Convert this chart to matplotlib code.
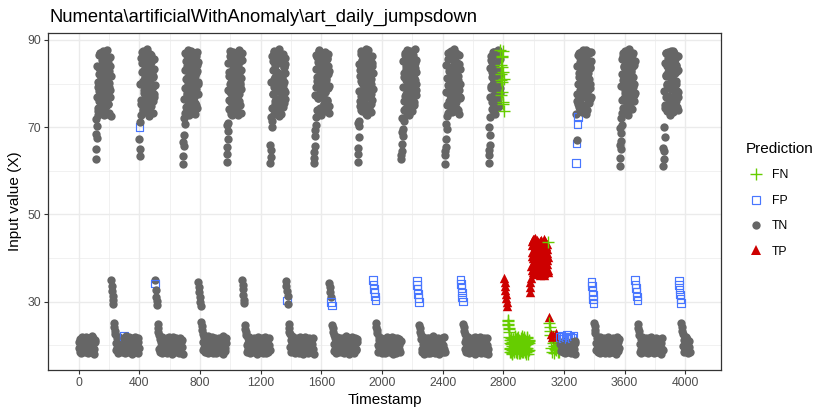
import matplotlib

matplotlib.use("Agg")
import matplotlib.pyplot as plt
import numpy as np
from matplotlib.lines import Line2D

plt.rcParams["font.family"] = ["Liberation Sans", "DejaVu Sans"]

STEP = 3  # every third 5-minute timestamp is kept
DAY = 288  # timestamps per day

# one list per day: low, high (ramp first), drop spike, bump, low
day_00 = [
    19.4, 20.8, 18.6, 21.5, 19.9, 18.2, 20.3, 21.9, 19.1, 20.6, 18.9, 21.2, 19.6, 18.4, 20.1, 22.0, 19.3, 20.9, 18.7, 21.4, 19.8, 18.3, 20.5, 21.7, 19.0, 20.2, 18.5, 21.1, 19.7, 22.1, 18.8, 20.4, 21.6, 19.2, 18.1, 20.7, 21.3,
    62.6, 65.1, 67.6, 70.2, 72.8, 74.5, 79.3, 83.6, 76.1, 86.9, 73.4, 81.2, 77.8, 85.4, 75.6, 80.7, 87.4, 78.9, 82.5, 74.0, 84.8, 76.9, 79.9, 86.2, 73.1, 81.9, 77.2, 83.1, 75.2, 85.9, 80.2, 78.4, 84.1, 72.5,
    34.9, 33.7, 32.4, 31.3, 30.4, 29.5,
    25.1, 24.2, 23.4, 22.7,
    20.6, 18.9, 21.8, 19.5, 20.2, 18.3, 21.1, 19.8, 22.0, 18.7, 20.9, 19.2, 21.5, 18.5, 20.4,
]
day_01 = [
    21.0, 18.7, 20.4, 22.2, 21.7, 18.2, 20.0, 22.1, 19.6, 18.9, 20.8, 21.4, 19.1, 18.4, 20.3, 21.9, 19.8, 18.6, 20.6, 21.2, 19.4, 18.1, 20.9, 21.6, 19.0, 18.8, 20.2, 22.0, 19.7, 18.5, 21.3, 20.1, 19.2, 18.3, 20.7, 21.8, 19.5,
    70.1, 63.4, 65.0, 72.9, 76.3, 84.7, 80.1, 87.5, 74.2, 82.8, 78.6, 86.1, 73.5, 81.4, 77.0, 85.2, 79.5, 75.1, 83.9, 87.0, 76.8, 80.9, 73.9, 84.3, 78.1, 86.6, 74.8, 82.1, 79.0, 85.7, 75.9, 81.7, 77.5, 83.3,
    35.1, 34.2, 32.8, 31.2, 30.1, 29.2,
    24.9, 24.0, 23.1, 22.5,
    19.3, 21.4, 18.6, 20.7, 19.9, 22.0, 18.2, 20.3, 21.6, 19.0, 18.8, 20.9, 21.2, 19.6, 18.4,
]
day_02 = [
    20.5, 18.3, 21.6, 19.2, 20.0, 18.8, 21.9, 19.7, 18.5, 20.6, 21.3, 19.4, 18.1, 20.2, 22.0, 19.0, 18.7, 21.1, 20.4, 19.8, 18.4, 21.7, 20.1, 19.3, 18.9, 20.8, 21.5, 19.5, 18.2, 20.3, 21.8, 19.1, 18.6, 20.9, 21.2, 19.6, 18.0,
    61.6, 63.5, 65.7, 68.2, 70.8, 73.3, 81.1, 86.8, 77.4, 84.0, 75.0, 79.8, 87.6, 72.7, 82.4, 78.3, 85.5, 74.6, 80.5, 76.2, 83.7, 87.1, 73.8, 79.2, 84.9, 77.9, 81.8, 75.5, 86.3, 78.8, 82.9, 74.3, 80.0, 85.0,
    34.6, 33.5, 32.2, 31.0, 29.9, 29.1,
    25.3, 24.4, 23.5, 22.6,
    18.9, 20.7, 21.9, 19.4, 18.4, 20.2, 21.3, 19.7, 18.6, 20.8, 22.1, 19.1, 18.2, 20.5, 21.0,
]
day_03 = [
    19.7, 21.2, 18.5, 20.3, 22.0, 19.0, 18.3, 20.9, 21.5, 19.4, 18.7, 20.1, 21.8, 19.9, 18.2, 20.6, 21.1, 19.2, 18.9, 20.4, 21.7, 19.6, 18.4, 20.0, 21.4, 19.3, 18.6, 20.7, 22.1, 19.8, 18.1, 20.2, 21.0, 19.5, 18.8, 20.5, 21.6,
    62.0, 63.9, 67.4, 69.1, 71.0, 74.1, 82.6, 78.0, 86.4, 75.8, 80.3, 84.5, 72.9, 87.3, 79.1, 83.4, 76.6, 81.5, 85.8, 73.7, 78.7, 86.0, 77.1, 82.0, 74.9, 84.2, 80.6, 87.7, 76.0, 79.6, 83.0, 73.2, 81.3, 85.3,
    35.0, 33.9, 32.9, 31.6, 30.5, 29.7,
    24.7, 23.8, 23.0, 22.4,
    20.1, 18.5, 21.7, 19.3, 20.6, 18.8, 22.0, 19.9, 18.3, 21.2, 20.4, 19.0, 18.6, 21.5, 20.0,
]
day_04 = [
    18.9, 20.6, 21.8, 19.2, 18.4, 20.3, 21.4, 19.7, 18.1, 20.9, 22.0, 19.5, 18.7, 20.0, 21.1, 19.0, 18.5, 20.7, 21.6, 19.8, 18.3, 20.2, 21.3, 19.4, 18.8, 20.5, 21.9, 19.1, 18.2, 20.8, 21.0, 19.6, 18.6, 20.1, 21.7, 19.3, 18.9,
    61.7, 63.1, 64.8, 70.0, 71.4, 77.6, 85.1, 73.0, 81.0, 87.2, 75.4, 83.2, 79.4, 86.5, 74.4, 80.8, 76.5, 84.6, 78.2, 87.8, 72.6, 82.2, 79.7, 85.6, 75.7, 81.6, 77.3, 86.7, 74.7, 83.8, 78.5, 80.4, 84.4, 76.4,
    34.7, 33.6, 30.3, 32.5, 31.4, 29.6,
    25.0, 24.1, 23.2, 22.6,
    19.6, 21.3, 18.4, 20.5, 22.1, 19.0, 18.7, 20.8, 21.5, 19.3, 18.2, 20.2, 21.8, 19.8, 18.5,
]
day_05 = [
    20.2, 18.6, 21.5, 19.9, 18.3, 20.7, 21.9, 19.3, 18.9, 20.4, 21.2, 19.6, 18.1, 20.0, 21.7, 19.1, 18.7, 20.8, 22.0, 19.4, 18.4, 20.5, 21.3, 19.8, 18.2, 20.1, 21.6, 19.0, 18.8, 20.6, 21.1, 19.5, 18.5, 20.3, 21.8, 19.2, 18.0,
    61.9, 63.0, 65.8, 67.9, 70.6, 72.4, 80.6, 86.0, 76.7, 83.5, 78.9, 87.4, 74.2, 81.9, 85.2, 77.0, 79.5, 84.7, 73.6, 82.3, 87.0, 75.3, 80.1, 86.4, 78.0, 83.9, 74.9, 81.2, 85.8, 76.1, 79.0, 84.1, 73.3, 82.8,
    34.4, 33.3, 32.3, 31.2, 30.0, 29.2,
    24.6, 23.9, 23.1, 22.3,
    18.7, 20.4, 21.6, 19.2, 18.3, 20.9, 22.0, 19.7, 18.9, 20.1, 21.3, 19.4, 18.5, 20.6, 21.8,
]
day_06 = [
    21.1, 19.4, 18.6, 20.5, 21.8, 19.0, 18.3, 20.2, 21.4, 19.7, 18.8, 20.9, 22.1, 19.2, 18.5, 20.0, 21.6, 19.5, 18.1, 20.7, 21.2, 19.9, 18.4, 20.3, 21.9, 19.1, 18.7, 20.6, 21.0, 19.6, 18.2, 20.4, 21.7, 19.3, 18.9, 20.8, 21.5,
    62.1, 63.8, 67.7, 70.3, 71.5, 75.9, 83.0, 87.5, 73.9, 80.2, 85.4, 77.7, 82.0, 86.9, 74.5, 79.3, 84.3, 76.8, 81.1, 87.8, 72.8, 78.4, 85.9, 80.8, 75.1, 83.6, 86.2, 77.4, 81.6, 73.4, 79.9, 84.8, 76.3, 82.5,
    35.0, 34.0, 33.0, 32.0, 31.2, 30.4,
    25.2, 24.3, 23.5, 22.8,
    20.0, 18.4, 21.2, 19.6, 22.0, 18.8, 20.6, 19.1, 21.7, 18.2, 20.3, 21.4, 19.8, 18.6, 20.9,
]
day_07 = [
    19.5, 21.3, 18.2, 20.6, 19.0, 21.9, 18.7, 20.1, 21.5, 19.8, 18.4, 20.8, 21.1, 19.3, 18.9, 20.4, 22.0, 19.6, 18.1, 20.2, 21.7, 19.1, 18.6, 20.9, 21.2, 19.4, 18.3, 20.5, 21.8, 19.9, 18.8, 20.0, 21.4, 19.2, 18.5, 20.7, 21.0,
    62.8, 64.5, 66.2, 67.9, 69.6, 71.3, 74.0, 81.5, 86.6, 77.2, 83.4, 79.0, 87.6, 75.6, 82.1, 85.0, 72.9, 80.3, 84.2, 78.1, 86.0, 76.4, 81.0, 87.1, 73.7, 79.6, 83.8, 77.9, 85.5, 75.0, 80.9, 84.7, 78.6, 82.7,
    34.8, 33.9, 32.9, 31.8, 30.9, 30.0,
    24.8, 24.0, 23.2, 22.5,
    21.5, 19.2, 18.5, 20.4, 21.9, 19.7, 18.1, 20.8, 21.2, 19.0, 18.7, 20.1, 21.6, 19.4, 18.3,
]
day_08 = [
    20.3, 18.8, 21.7, 19.4, 18.2, 20.9, 21.3, 19.7, 18.5, 20.0, 22.1, 19.1, 18.6, 20.6, 21.5, 19.8, 18.3, 20.2, 21.0, 19.3, 18.9, 20.7, 21.8, 19.5, 18.1, 20.4, 21.2, 19.0, 18.7, 20.8, 21.6, 19.6, 18.4, 20.1, 21.9, 19.2, 18.6,
    61.6, 63.6, 65.4, 67.3, 69.5, 72.6, 79.7, 85.7, 76.0, 82.9, 87.3, 74.8, 81.3, 78.2, 86.3, 73.5, 80.7, 84.0, 77.5, 83.1, 87.9, 75.3, 79.1, 85.1, 76.7, 82.4, 74.1, 86.8, 78.8, 81.8, 73.0, 84.5, 77.0, 80.0,
    35.1, 34.1, 33.2, 32.1, 31.0, 30.1,
    25.0, 24.2, 23.3, 22.6,
    19.1, 20.8, 18.4, 21.4, 19.9, 18.7, 20.3, 22.0, 19.4, 18.2, 20.6, 21.1, 19.6, 18.9, 20.0,
]
day_09 = [
    18.7, 20.5, 21.6, 19.3, 18.4, 20.1, 21.9, 19.8, 18.1, 20.7, 21.2, 19.5, 18.8, 20.3, 21.5, 19.0, 18.5, 20.9, 22.0, 19.7, 18.3, 20.4, 21.3, 19.2, 18.9, 20.0, 21.7, 19.6, 18.2, 20.6, 21.1, 19.4, 18.6, 20.2, 21.8, 19.1, 18.0,
    61.8, 63.7, 66.0, 68.1, 72.3, 79.4, 85.3, 75.7, 82.6, 87.2, 74.0, 80.5, 77.3, 84.4, 86.6, 73.1, 78.9, 83.3, 76.2, 81.1, 87.7, 74.6, 79.9, 85.9, 77.8, 82.0, 87.6, 84.2, 80.9, 78.1, 86.0, 75.3, 82.7, 73.6,
    35.4, 34.5, 33.6, 32.7, 31.8, 30.9, 30.0, 29.1,
    25.9, 25.0, 24.1, 23.2,
    19.5, 21.2, 18.6, 20.4, 21.8, 19.0, 18.3, 20.9, 21.5, 19.7, 18.8, 20.1, 22.0,
]
# the anomalous day: the daytime level drops to about 40
day_10 = [
    20.3, 18.5, 21.4, 19.2, 18.9, 20.7, 21.9, 19.6, 18.2, 20.0, 21.1, 19.4, 18.7, 20.5, 22.1, 19.8, 18.4, 20.2, 21.6, 19.1, 18.6, 20.8, 21.3, 19.5, 18.1, 20.4, 21.7, 19.0, 18.8, 20.6, 21.0,
    32.3, 33.4, 34.6, 35.5,
    38.2, 41.5, 43.9, 36.8, 40.1, 44.3, 37.6, 42.2, 39.4, 44.6, 36.3, 41.0, 43.2, 38.7, 40.8, 37.1, 42.9, 39.9, 44.0, 36.6, 41.8, 38.0, 43.5, 40.4, 37.3, 42.5, 39.1, 44.4, 36.1, 41.3, 38.5, 43.0, 40.0, 37.9, 42.0, 39.6, 36.9, 43.8,
    26.6,
    25.1, 24.2, 23.3, 22.4,
    22.6, 19.4, 21.9, 18.6, 20.5, 22.3, 19.8, 18.3, 22.0, 20.9, 19.1, 22.8, 18.9, 20.2, 21.8, 19.6, 18.4, 20.7,
]
day_11 = [
    18.5, 19.6, 21.9, 20.3, 18.8, 22.3, 19.4, 20.7, 21.6, 18.4, 20.1, 22.1, 19.0, 20.9, 18.2, 21.8, 19.7, 20.5, 22.4, 18.6, 19.9, 21.5, 20.2, 18.9, 22.0, 19.3, 20.8, 18.3, 21.7, 19.5, 20.4, 18.7, 22.2, 19.1, 20.6, 18.1, 21.0,
    61.8, 66.3, 67.0, 70.7, 72.3, 75.2, 82.3, 87.0, 78.5, 84.9, 73.8, 80.4, 86.4, 76.9, 83.2, 79.3, 87.6, 74.4, 81.6, 85.6, 77.6, 82.8, 73.1, 80.0, 86.8, 78.3, 84.1, 75.8, 81.0, 87.3, 76.5, 83.6, 79.8, 85.2,
    34.6, 33.6, 32.5, 31.5, 30.5, 29.6,
    25.2, 24.4, 23.6, 22.8,
    20.5, 18.9, 21.7, 19.3, 18.5, 20.2, 21.2, 19.8, 18.2, 20.8, 22.0, 19.5, 18.7, 20.0, 21.4,
]
day_12 = [
    19.2, 20.9, 18.5, 21.6, 19.7, 18.2, 20.4, 21.1, 19.0, 18.8, 20.6, 22.0, 19.4, 18.3, 20.1, 21.5, 19.9, 18.6, 20.7, 21.3, 19.1, 18.4, 20.3, 21.8, 19.6, 18.9, 20.0, 21.2, 19.3, 18.1, 20.5, 21.9, 19.8, 18.7, 20.8, 21.4, 19.5,
    61.2, 63.0, 64.9, 66.8, 68.7, 70.6, 73.2, 80.8, 86.2, 76.6, 83.7, 78.4, 87.4, 74.7, 81.9, 85.4, 77.1, 79.7, 84.6, 72.9, 82.5, 87.9, 75.5, 80.1, 85.8, 78.0, 83.0, 74.2, 86.5, 79.2, 81.4, 76.0, 84.3, 77.9,
    35.0, 34.0, 33.1, 32.2, 31.2, 30.3,
    24.9, 24.1, 23.3, 22.5,
    18.6, 20.3, 21.5, 19.1, 18.3, 20.7, 21.9, 19.6, 18.8, 20.0, 21.2, 19.4, 18.5, 20.9, 21.7,
]
day_13 = [
    20.4, 18.7, 21.2, 19.6, 18.3, 20.8, 21.7, 19.2, 18.9, 20.1, 22.0, 19.4, 18.5, 20.6, 21.4, 19.9, 18.2, 20.3, 21.1, 19.0, 18.6, 20.9, 21.8, 19.5, 18.4, 20.2, 21.5, 19.7, 18.8, 20.7, 21.3, 19.1, 18.1, 20.5, 21.6, 19.3, 18.9,
    61.0, 62.7, 64.6, 67.8, 74.3, 81.7, 86.9, 77.0, 83.9, 79.6, 87.2, 75.4, 82.2, 85.3, 72.7, 80.2, 84.8, 78.7, 86.1, 76.2, 81.3, 87.5, 73.5, 79.0, 83.4, 77.7, 85.7, 75.9, 80.6, 84.0, 78.2, 82.9, 74.0, 86.4,
    34.9, 33.8, 32.8, 31.7, 30.7, 29.8,
    25.1, 24.3, 23.4, 22.7,
    19.8, 21.3, 18.5, 20.6, 19.1, 21.9, 18.8, 20.2, 21.5, 19.4, 18.3, 20.9, 21.0, 19.7, 18.6,
]

days = [
    day_00, day_01, day_02, day_03, day_04, day_05, day_06,
    day_07, day_08, day_09, day_10, day_11, day_12, day_13,
]

# second pass over the busy daytime stretches, one timestamp later
high2_00 = [68.4, 71.9, 77.0, 84.1, 80.4, 73.8, 86.5, 78.2, 82.2, 75.9, 87.1, 79.6, 74.3, 83.9, 81.5, 76.5, 85.6, 72.9, 80.0, 86.9, 77.6, 83.3, 74.9, 81.0, 87.6, 78.8, 75.4, 84.6, 82.8, 73.3, 79.1, 86.0, 76.8, 81.8]
high2_01 = [67.2, 71.2, 79.8, 85.9, 75.3, 82.7, 87.3, 73.7, 80.6, 84.4, 77.8, 86.3, 74.6, 81.2, 78.4, 83.6, 87.8, 76.0, 79.3, 85.0, 72.6, 82.0, 86.7, 77.3, 80.9, 75.7, 84.9, 78.9, 83.1, 73.2, 81.6, 85.5, 76.9, 79.7]
high2_02 = [66.5, 72.1, 76.4, 83.0, 87.0, 79.0, 74.7, 85.2, 81.3, 77.9, 86.1, 73.5, 80.2, 84.7, 78.6, 82.6, 75.8, 87.5, 79.5, 83.8, 74.1, 81.9, 86.4, 76.9, 80.7, 73.0, 85.7, 78.1, 82.3, 75.1, 84.2, 87.2, 77.5, 80.3]
high2_03 = [65.5, 70.4, 78.5, 84.8, 76.2, 81.7, 87.4, 74.0, 79.9, 85.4, 73.1, 82.9, 77.2, 86.6, 80.5, 75.5, 83.5, 78.0, 87.0, 74.8, 81.1, 84.0, 76.7, 79.4, 86.0, 72.8, 82.4, 77.7, 85.1, 80.1, 75.0, 83.2, 78.7, 86.9]
high2_04 = [66.0, 72.4, 80.3, 86.2, 74.5, 83.1, 77.5, 87.5, 79.2, 84.3, 75.9, 81.4, 86.8, 73.4, 78.3, 82.7, 85.3, 76.3, 80.0, 87.1, 74.2, 82.1, 78.8, 84.9, 73.0, 81.0, 86.1, 77.0, 79.6, 83.7, 75.6, 85.8, 78.1, 82.5]
high2_05 = [64.3, 69.4, 77.4, 83.4, 79.1, 86.5, 73.9, 81.5, 85.0, 76.6, 80.2, 87.6, 74.5, 82.6, 78.5, 84.6, 72.7, 79.8, 86.2, 77.1, 83.0, 75.3, 81.0, 87.2, 78.0, 84.2, 73.6, 80.8, 85.6, 76.2, 82.2, 86.8, 74.9, 79.4]
high2_06 = [65.2, 71.0, 78.2, 84.5, 74.8, 81.8, 86.7, 77.1, 80.6, 85.1, 73.6, 82.4, 87.3, 79.2, 75.7, 83.9, 78.0, 86.0, 73.0, 81.3, 84.6, 76.9, 80.0, 87.7, 74.3, 82.9, 79.5, 85.7, 77.6, 81.0, 75.2, 84.0, 86.4, 78.7]
high2_07 = [63.7, 68.8, 72.1, 79.2, 85.2, 76.0, 82.3, 87.0, 74.1, 80.7, 84.0, 77.6, 86.3, 73.2, 81.7, 78.9, 85.8, 75.2, 83.0, 87.4, 76.8, 80.1, 84.5, 74.6, 82.0, 86.6, 78.3, 81.2, 75.8, 83.5, 87.9, 77.3, 79.8, 85.4]
high2_08 = [64.5, 70.7, 78.0, 84.3, 75.0, 81.2, 86.9, 73.3, 79.5, 85.5, 77.4, 82.8, 87.4, 74.5, 80.4, 83.7, 76.1, 86.0, 78.6, 81.9, 73.8, 85.0, 79.9, 87.0, 75.8, 82.3, 77.0, 84.7, 80.8, 74.0, 86.5, 78.4, 83.3, 76.6]
high2_09 = [64.8, 70.0, 76.8, 83.6, 79.0, 86.2, 74.2, 81.6, 85.0, 77.0, 80.0, 87.3, 73.5, 82.5, 78.4, 84.8, 75.6, 86.8, 79.6, 83.0, 76.4, 81.3, 87.0, 74.8, 79.0, 85.6, 82.1, 77.4, 86.4, 80.3, 83.8, 75.8, 87.5, 81.0]
high2_10 = [40.6, 37.4, 43.1, 39.0, 44.5, 36.5, 41.9, 38.4, 42.7, 40.2, 36.9, 44.1, 39.7, 37.8, 42.4, 43.6, 38.9, 41.2, 36.2, 40.9, 44.2, 37.0, 42.1, 39.3, 43.4, 38.1, 41.6, 36.7, 40.5, 44.0, 37.7, 42.8, 39.8, 43.3, 38.6, 41.1, 37.2, 40.3]
high2_11 = [73.0, 75.9, 77.7, 84.0, 79.9, 86.6, 74.6, 81.4, 85.8, 76.4, 80.8, 87.2, 73.4, 82.9, 78.1, 84.5, 75.0, 86.1, 79.3, 83.4, 77.2, 81.8, 87.7, 74.0, 80.3, 85.3, 78.6, 82.4, 86.9, 75.6, 83.7, 79.0, 87.3, 76.8]
high2_12 = [65.9, 69.9, 72.2, 79.5, 85.5, 76.3, 82.1, 87.1, 74.4, 80.5, 84.1, 77.8, 86.4, 73.7, 81.1, 78.7, 85.9, 75.4, 83.3, 87.6, 76.7, 80.2, 84.8, 74.1, 82.7, 86.7, 78.2, 81.5, 75.9, 83.9, 87.0, 77.3, 79.9, 85.2]
high2_13 = [65.3, 70.1, 78.3, 84.6, 75.1, 81.9, 87.0, 73.6, 80.0, 85.8, 77.2, 82.6, 86.4, 74.4, 79.4, 83.8, 76.4, 87.4, 78.9, 81.3, 73.9, 85.1, 80.7, 86.9, 75.6, 82.3, 77.8, 84.3, 79.8, 74.7, 86.2, 78.0, 83.1, 76.9]
# missed night-time stretch before the anomalous day
low2_09 = [25.5, 24.6, 23.7, 22.0, 19.3, 20.6, 18.4, 21.3, 19.9, 18.1, 20.9, 21.5, 19.0, 18.6, 20.3, 22.1, 19.6, 18.9, 21.0, 20.0, 18.3, 21.8, 19.4, 20.7, 18.7, 21.2, 19.8, 18.2, 20.4, 21.6, 19.1, 20.8, 18.5, 21.4, 19.7, 22.0, 18.9, 20.2, 21.1, 19.2, 18.4, 20.5, 21.9, 19.5, 18.0, 20.9, 21.3, 19.0]

# first timestamp of each second-pass list
second_pass = [
    (112, high2_00), (400, high2_01), (688, high2_02), (976, high2_03),
    (1264, high2_04), (1552, high2_05), (1840, high2_06), (2128, high2_07),
    (2416, high2_08), (2704, high2_09), (2986, high2_10), (3280, high2_11),
    (3568, high2_12), (3856, high2_13), (2830, low2_09),
]

# timestamps of the points that are not true negatives
fn_ts = [
    *range(2781, 2803, 3), *range(2782, 2804, 3), *range(2829, 2971, 3), *range(2830, 2972, 3),
    3096, 3102, 3105, 3108, 3111,
    3117, 3123, 3126, 3132, 3135, 3141, 3144, 3150, 3153, 3159, 3162, 3165, 3168, 3171,
]
fp_ts = [
    297, 399, 504, 1371, 1665, 1668,
    *range(1941, 1957, 3), *range(2229, 2245, 3), *range(2517, 2533, 3),
    3174, 3183, 3192, 3201, 3213, 3222, 3231, 3240, 3252, 3264,
    3279, 3282, 3288, 3291,
    *range(3381, 3397, 3), *range(3669, 3685, 3), *range(3957, 3973, 3),
]
tp_ts = [
    *range(2805, 2827, 3), *range(2973, 3094, 3), *range(2986, 3098, 3),
    3099, 3114, 3120, 3129, 3138, 3147, 3156,
]

classes = ["FN", "FP", "TN", "TP"]
style = {
    "FN": dict(marker="+", s=72, color="#66CD00", linewidths=1.0),
    "FP": dict(marker="s", s=30, facecolors="none", edgecolors="#4876FF", linewidths=0.85),
    "TN": dict(marker="o", s=36, color="#666666", linewidths=0),
    "TP": dict(marker="^", s=46, color="#CD0000", linewidths=0),
}

ts_parts = [d * DAY + STEP * np.arange(len(v)) for d, v in enumerate(days)]
val_parts = [np.asarray(v, dtype=float) for v in days]
for t0, v in second_pass:
    ts_parts.append(t0 + STEP * np.arange(len(v)))
    val_parts.append(np.asarray(v, dtype=float))
timestamp = np.concatenate(ts_parts)
value = np.concatenate(val_parts)
order = np.argsort(timestamp, kind="stable")
timestamp, value = timestamp[order], value[order]

pred = np.full(len(value), "TN", dtype=object)
pred[np.isin(timestamp, fn_ts)] = "FN"
pred[np.isin(timestamp, fp_ts)] = "FP"
pred[np.isin(timestamp, tp_ts)] = "TP"

W, H = 830, 415
fig = plt.figure(figsize=(W / 100, H / 100), dpi=100)
left, right, top, bottom = 48.3, 720.5, 33.3, 369.5
ax = fig.add_axes([left / W, 1 - bottom / H, (right - left) / W, (bottom - top) / H])

# draw in data order, run by run, so that overlaps stack as in the original
start = 0
for i in range(1, len(pred) + 1):
    if i == len(pred) or pred[i] != pred[start]:
        ax.scatter(timestamp[start:i], value[start:i], zorder=3, **style[pred[start]])
        start = i

ax.set_xlim(-201.6, 4232.6)
ax.set_ylim(14.5, 91.5)
ax.set_xticks(np.arange(0, 4001, 400))
ax.set_xticks(np.arange(200, 4000, 400), minor=True)
ax.set_yticks([30, 50, 70, 90])
ax.set_yticks([20, 40, 60, 80], minor=True)
ax.grid(which="major", color="#EBEBEB", linewidth=1.0)
ax.grid(which="minor", color="#EBEBEB", linewidth=0.5)
ax.set_axisbelow(True)
for sp in ax.spines.values():
    sp.set_color("#333333")
    sp.set_linewidth(0.9)
ax.tick_params(which="major", length=3.2, width=0.8, color="#333333",
               labelcolor="#4D4D4D", labelsize=8.8, pad=2.2)
ax.tick_params(which="minor", length=0)

fig.text(49 / W, 1 - 21.7 / H, "Numenta\\artificialWithAnomaly\\art_daily_jumpsdown",
         fontsize=13.2, ha="left", va="baseline", color="black")
fig.text((left + right) / 2 / W, 1 - 404 / H, "Timestamp", fontsize=11,
         ha="center", va="baseline")
fig.text(15.5 / W, 1 - (top + bottom) / 2 / H, "Input value (X)", fontsize=11,
         rotation=90, ha="center", va="center")

handles = []
for c in classes:
    st = style[c]
    if c == "FP":
        h = Line2D([], [], ls="none", marker="s", markersize=np.sqrt(st["s"]),
                   markerfacecolor="none", markeredgecolor="#4876FF", markeredgewidth=0.85)
    elif c == "FN":
        h = Line2D([], [], ls="none", marker="+", markersize=np.sqrt(st["s"]),
                   color=st["color"], markeredgewidth=1.0)
    else:
        h = Line2D([], [], ls="none", marker=st["marker"], markersize=np.sqrt(st["s"]),
                   color=st["color"], markeredgewidth=0)
    handles.append(h)

fig.legend(handles, classes, title="Prediction", loc="upper left",
           bbox_to_anchor=(746 / W, 1 - 142 / H), frameon=False, fontsize=8.8,
           title_fontsize=11, handlelength=1.6, handletextpad=0.5,
           labelspacing=1.1, borderpad=0, borderaxespad=0, alignment="left")

fig.savefig("out.png", dpi=100)
